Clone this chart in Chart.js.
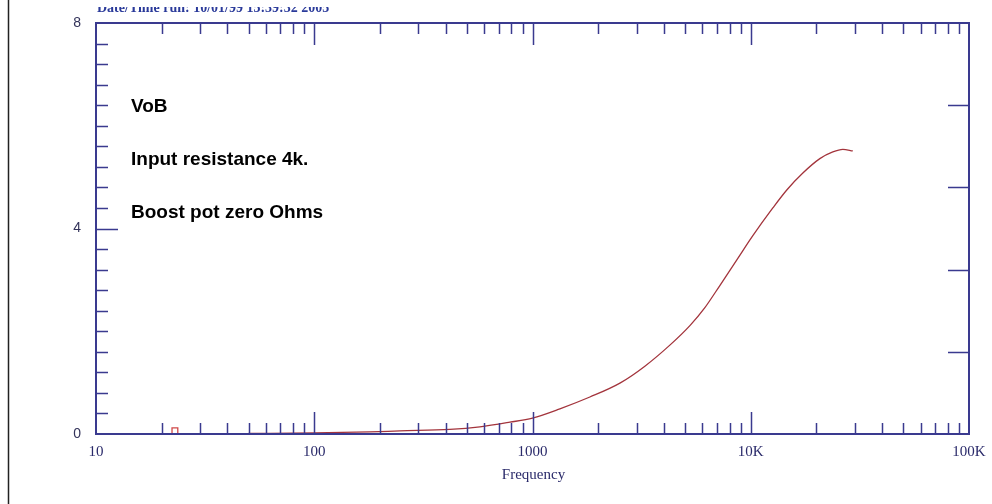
<!DOCTYPE html>
<html>
<head>
<meta charset="utf-8">
<script src="https://cdn.jsdelivr.net/npm/chart.js@4/dist/chart.umd.min.js"></script>
<style>
html,body{margin:0;padding:0;background:#fff;}
#wrap{width:992px;height:504px;position:relative;}
</style>
</head>
<body>
<div id="wrap"><canvas id="c" width="992" height="504"></canvas></div>
<script>
// Data
const freqHz = [50, 100, 180, 247, 418, 574, 788, 1000, 1335, 1832, 2515, 3273, 4260, 5263, 6163, 7217, 8635, 10223, 12623, 14625, 17330, 20730, 23770, 26420, 29350];
const gainVals = [0.01, 0.02, 0.04, 0.06, 0.09, 0.14, 0.23, 0.31, 0.49, 0.72, 0.99, 1.32, 1.73, 2.11, 2.46, 2.89, 3.39, 3.86, 4.40, 4.75, 5.08, 5.36, 5.49, 5.54, 5.51];
const glitchHz = [22.3, 22.3, 23.7, 23.7];
const glitchVals = [0, 0.12, 0.12, 0];
const xTickVals = [10, 100, 1000, 10000, 100000];
const xTickLabels = ['10', '100', '1000', '10K', '100K'];
const yTickVals = [0, 4, 8];
const yTickLabels = ['0', '4', '8'];
const rightTickVals = [1.6, 3.2, 4.8, 6.4];
const notes = ['VoB', 'Input resistance 4k.', 'Boost pot zero Ohms'];
const headerText = 'Date/Time run: 10/01/99 15:39:32 2005';
const xTitle = 'Frequency';

const NAVY = '#3a3a8f';
const CURVE = '#a3343c';

const axesPlugin = {
  id: 'axesPlugin',
  afterDraw(chart) {
    const ctx = chart.ctx;
    const xs = chart.scales.x, ys = chart.scales.y;
    const a = chart.chartArea;
    ctx.save();
    ctx.strokeStyle = '#222';
    ctx.lineWidth = 1.5;
    ctx.beginPath(); ctx.moveTo(8.5, 0); ctx.lineTo(8.5, 504); ctx.stroke();

    ctx.save();
    ctx.beginPath(); ctx.rect(0, 7, 992, 14); ctx.clip();
    ctx.fillStyle = '#2a3a9a';
    ctx.font = 'bold 14px "Liberation Serif", serif';
    ctx.textAlign = 'left'; ctx.textBaseline = 'alphabetic';
    ctx.fillText(headerText, 97, 12);
    ctx.restore();

    ctx.strokeStyle = NAVY;
    ctx.lineWidth = 2;
    ctx.strokeRect(a.left, a.top, a.right - a.left, a.bottom - a.top);

    ctx.lineWidth = 1.5;
    ctx.beginPath();
    for (let d = 10; d < 100000; d *= 10) {
      for (let m = 1; m <= 9; m++) {
        if (m === 1 && d === 10) continue;
        const px = Math.round(xs.getPixelForValue(d * m)) + 0.5;
        const len = (m === 1) ? 22 : 11;
        ctx.moveTo(px, a.bottom); ctx.lineTo(px, a.bottom - len);
        ctx.moveTo(px, a.top); ctx.lineTo(px, a.top + len);
      }
    }
    for (let i = 1; i < 20; i++) {
      const v = i * 0.4;
      const py = Math.round(ys.getPixelForValue(v)) + 0.5;
      const len = (Math.abs(v - 4) < 1e-6) ? 22 : 12;
      ctx.moveTo(a.left, py); ctx.lineTo(a.left + len, py);
    }
    rightTickVals.forEach(v => {
      const py = Math.round(ys.getPixelForValue(v)) + 0.5;
      ctx.moveTo(a.right, py); ctx.lineTo(a.right - 21, py);
    });
    ctx.stroke();

    ctx.fillStyle = '#2a2a6a';
    ctx.font = '15px "Liberation Serif", serif';
    ctx.textAlign = 'center'; ctx.textBaseline = 'middle';
    xTickVals.forEach((v, i) => {
      ctx.fillText(xTickLabels[i], xs.getPixelForValue(v), a.bottom + 18);
    });
    ctx.fillText(xTitle, (a.left + a.right) / 2 + 1, a.bottom + 41);

    ctx.fillStyle = '#33335a';
    ctx.font = '14px "Liberation Sans", Arial, sans-serif';
    ctx.textAlign = 'right';
    yTickVals.forEach((v, i) => {
      ctx.fillText(yTickLabels[i], a.left - 15, ys.getPixelForValue(v));
    });

    ctx.fillStyle = '#000';
    ctx.font = 'bold 19px "Liberation Sans", Arial, sans-serif';
    ctx.textAlign = 'left'; ctx.textBaseline = 'alphabetic';
    const noteY = [112, 165, 218];
    notes.forEach((t, i) => ctx.fillText(t, 131, noteY[i]));
    ctx.restore();
  }
};

new Chart(document.getElementById('c'), {
  type: 'line',
  data: {
    datasets: [
      {
        data: freqHz.map((f, i) => ({x: f, y: gainVals[i]})),
        borderColor: CURVE, borderWidth: 1.3, pointRadius: 0,
        cubicInterpolationMode: 'monotone', fill: false
      },
      {
        data: glitchHz.map((f, i) => ({x: f, y: glitchVals[i]})),
        borderColor: '#d04848', borderWidth: 1.3, pointRadius: 0, tension: 0, fill: false
      }
    ]
  },
  options: {
    responsive: false,
    animation: false,
    layout: {padding: {left: 96, right: 23, top: 23, bottom: 70}},
    plugins: {legend: {display: false}, tooltip: {enabled: false}},
    scales: {
      x: {type: 'logarithmic', min: 10, max: 100000, display: false},
      y: {type: 'linear', min: 0, max: 8, display: false}
    }
  },
  plugins: [axesPlugin]
});
</script>
</body>
</html>
